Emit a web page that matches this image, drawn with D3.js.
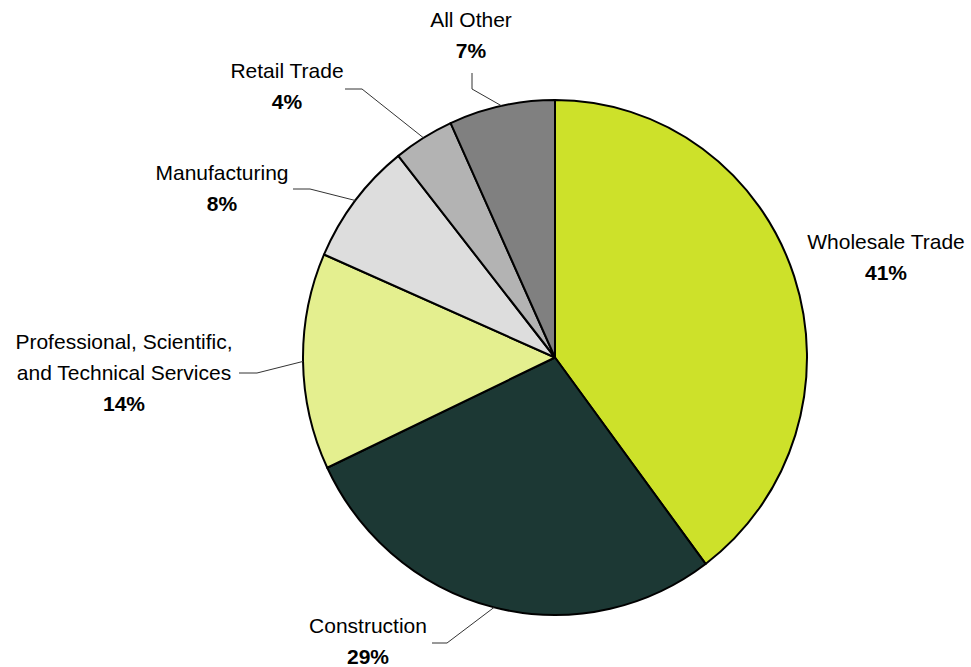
<!DOCTYPE html>
<html>
<head>
<meta charset="utf-8">
<script src="https://cdn.jsdelivr.net/npm/d3@7"></script>
<style>
  html, body { margin: 0; padding: 0; background: #fff; }
  svg { display: block; }
  text { font-family: "Liberation Sans", Arial, sans-serif; font-size: 21px; fill: #000; }
  .pct { font-weight: bold; }
</style>
</head>
<body>
<script>
// Industry shares (percent), clockwise from 12 o'clock
const categories = ["Wholesale Trade", "Construction", "Professional, Scientific,|and Technical Services", "Manufacturing", "Retail Trade", "All Other"];
const values = [41, 29, 14, 8, 4, 7];
const colors = ["#cde12a", "#1c3834", "#e4ef8f", "#dddddd", "#b3b3b3", "#808080"];

// Label placement: text centre x, first baseline y, and leader start/knee points
const labelLayout = [
  { x: 886, y: 249, leader: null },
  { x: 368, y: 633, leader: [[432, 643], [447, 643]] },
  { x: 124, y: 349, leader: [[239, 373], [257, 373]] },
  { x: 222, y: 180, leader: [[293, 189], [310, 189]] },
  { x: 287, y: 78,  leader: [[345, 89], [362, 89]] },
  { x: 471, y: 27,  leader: [[472, 73], [472, 89]] }
];

const W = 971, H = 667;
const cx = 555, cy = 357.5;
const R = 252, yStretch = 257.5 / 252;   // pie is drawn slightly taller than wide
const lineGap = 31;

const svg = d3.select("body").append("svg").attr("width", W).attr("height", H);

const data = categories.map((c, i) => ({ name: c, value: values[i], color: colors[i], layout: labelLayout[i] }));

const pie = d3.pie().value(d => d.value).sort(null);
const arc = d3.arc().innerRadius(0).outerRadius(R);
const arcs = pie(data);

const g = svg.append("g").attr("transform", `translate(${cx},${cy}) scale(1,${yStretch})`);

g.selectAll("path.slice")
  .data(arcs)
  .join("path")
  .attr("class", "slice")
  .attr("d", arc)
  .attr("fill", d => d.data.color)
  .attr("stroke", "#000")
  .attr("stroke-width", 2)
  .attr("stroke-linejoin", "round");

// Leader lines: from label to the pie edge at each slice's mid-angle
const edgePoint = d => {
  const a = (d.startAngle + d.endAngle) / 2;
  return [cx + R * Math.sin(a), cy - R * yStretch * Math.cos(a)];
};

svg.selectAll("path.leader")
  .data(arcs.filter(d => d.data.layout.leader))
  .join("path")
  .attr("class", "leader")
  .attr("d", d => d3.line()([...d.data.layout.leader, edgePoint(d)]))
  .attr("fill", "none")
  .attr("stroke", "#333")
  .attr("stroke-width", 1);

// Labels: category name (one or more lines) then bold percentage
const labels = svg.selectAll("g.label")
  .data(arcs)
  .join("g")
  .attr("class", "label");

labels.each(function(d) {
  const sel = d3.select(this);
  const lines = d.data.name.split("|");
  const L = d.data.layout;
  lines.forEach((ln, k) => {
    sel.append("text")
      .attr("x", L.x)
      .attr("y", L.y + k * lineGap)
      .attr("text-anchor", "middle")
      .text(ln);
  });
  sel.append("text")
    .attr("class", "pct")
    .attr("x", L.x)
    .attr("y", L.y + lines.length * lineGap)
    .attr("text-anchor", "middle")
    .text(d.data.value + "%");
});
</script>
</body>
</html>
